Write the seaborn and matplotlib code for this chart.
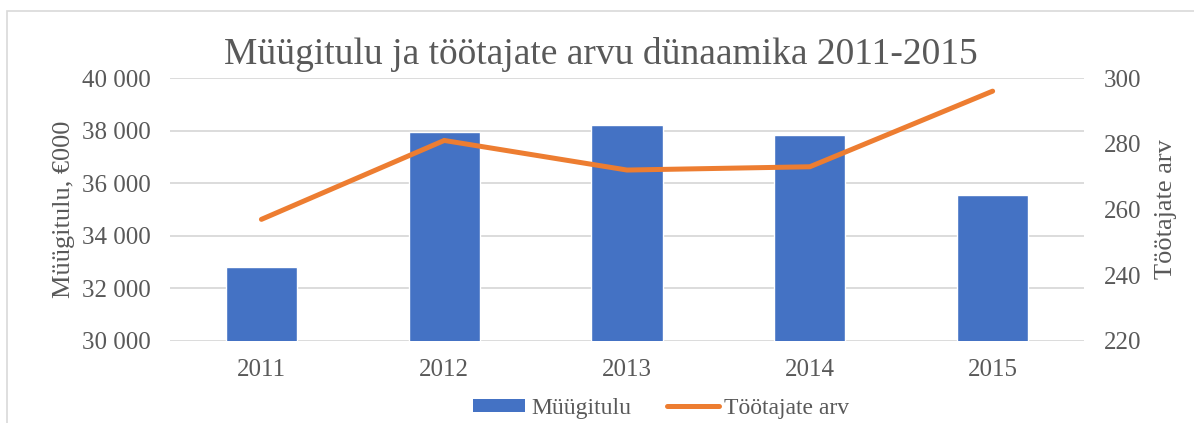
import matplotlib
matplotlib.use("Agg")
import matplotlib.pyplot as plt
import seaborn as sns
import pandas as pd
from matplotlib.patches import Rectangle, Patch
from matplotlib.lines import Line2D
from matplotlib.ticker import FuncFormatter

years = ["2011", "2012", "2013", "2014", "2015"]
revenue = [32800, 37950, 38200, 37850, 35560]
employees = [257, 281, 272, 273, 296]

title = "Müügitulu ja töötajate arvu dünaamika 2011-2015"
left_label = "Müügitulu, €000"
right_label = "Töötajate arv"
bar_name = "Müügitulu"
line_name = "Töötajate arv"

BLUE = "#4472C4"
ORANGE = "#ED7D31"
TXT = "#595959"
GRID = "#D9D9D9"

sns.set_theme(style="white")
plt.rcParams["font.family"] = ["Liberation Serif", "DejaVu Serif"]

df = pd.DataFrame({"year": years, "revenue": revenue, "employees": employees})

fig = plt.figure(figsize=(11.94, 4.23), dpi=100)
ax = fig.add_axes([0.1424, 0.1939, 0.9079 - 0.1424, 0.8156 - 0.1939])

sns.barplot(data=df, x="year", y="revenue", color=BLUE, saturation=1, width=0.39, ax=ax, zorder=2)
ax.set_ylim(30000, 40000)
ax.set_yticks([30000, 32000, 34000, 36000, 38000, 40000])
ax.yaxis.set_major_formatter(FuncFormatter(lambda v, p: f"{int(v):,}".replace(",", " ")))
ax.grid(axis="y", color=GRID, lw=1.3, zorder=0)
ax.set_axisbelow(True)
for s in ax.spines.values():
    s.set_visible(False)
ax.tick_params(axis="both", length=0, labelsize=18, colors=TXT)
ax.tick_params(axis="y", pad=14)
ax.tick_params(axis="x", pad=13)
ax.set_xlabel("")
ax.set_ylabel(left_label, fontsize=19, color=TXT, labelpad=5)

ax2 = ax.twinx()
sns.lineplot(data=df, x="year", y="employees", color=ORANGE, lw=3.6, ax=ax2, sort=False)
for ln in ax2.lines:
    ln.set_solid_capstyle("round")
    ln.set_solid_joinstyle("miter")
ax2.set_ylim(220, 300)
ax2.set_yticks([220, 240, 260, 280, 300])
for s in ax2.spines.values():
    s.set_visible(False)
ax2.tick_params(axis="y", length=0, labelsize=18, colors=TXT, pad=14)
ax2.set_ylabel(right_label, fontsize=19, color=TXT, labelpad=10)
ax2.grid(False)
ax.set_xlim(-0.5, 4.5)

fig.text(0.503, 0.872, title, ha="center", va="center", fontsize=27, color=TXT)

handles = [Patch(facecolor=BLUE, edgecolor="none"),
           Line2D([0], [0], color=ORANGE, lw=3.6, solid_capstyle="round")]
fig.legend(handles, [bar_name, line_name], loc="center", bbox_to_anchor=(0.554, 0.035),
           ncol=2, frameon=False, fontsize=17, handlelength=2.2, handleheight=0.5,
           columnspacing=1.5, handletextpad=0.25, labelcolor=TXT)

fig.patches.append(Rectangle((7 / 1194, -0.01), 1.2, 1 - 11 / 423 + 0.01, transform=fig.transFigure,
                             fill=False, edgecolor="#D9D9D9", lw=1.2))

fig.savefig("out.png", dpi=100)
